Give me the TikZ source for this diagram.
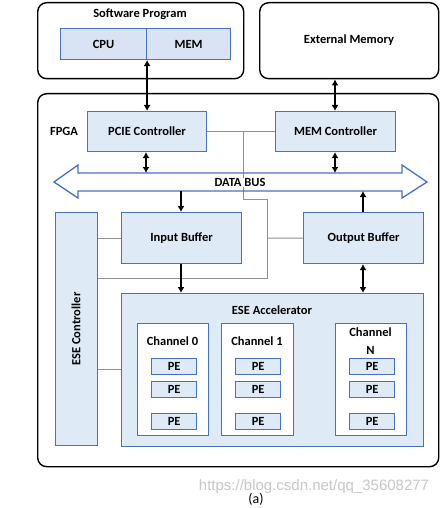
\documentclass[tikz,border=0pt]{standalone}
\usepackage{fontspec}
\setmainfont{Carlito}
\newfontfamily\wmfont{Liberation Sans}
\usetikzlibrary{arrows.meta}
\definecolor{bborder}{HTML}{4472C4}
\definecolor{bfill}{HTML}{DEEBF7}
\definecolor{cfill}{HTML}{DAE3F3}
\definecolor{gline}{HTML}{909090}
\tikzset{
  outerbox/.style={draw=black, line width=1.4pt, rounded corners=9pt, fill=white},
  bluebox/.style={draw=bborder, line width=1.1pt, fill=bfill, inner sep=0pt},
  cpubox/.style={draw=bborder, line width=1.1pt, fill=cfill, inner sep=0pt},
  chanbox/.style={draw=bborder, line width=1.3pt, fill=white, inner sep=0pt},
  pebox/.style={draw=bborder, line width=1.3pt, fill=bfill, inner sep=0pt},
  lbl/.style={font=\bfseries\fontsize{12.5}{14}\selectfont, text=black},
  darr/.style={line width=1.5pt, {Latex[length=6pt,width=7pt]}-{Latex[length=6pt,width=7pt]}},
  sarr/.style={line width=1.5pt, -{Latex[length=6pt,width=7pt]}},
  gray line/.style={draw=gline, line width=1pt},
}
\begin{document}
\begin{tikzpicture}[x=1pt,y=-1pt]
\useasboundingbox[fill=white] (0,0) rectangle (445,508);
% Software Program
\node[outerbox, minimum width=206pt, minimum height=76pt, anchor=north west] (sw) at (37,2) {};
\node[lbl] (swt) at (140,14) {Software Program};
\node[cpubox, minimum width=86pt, minimum height=31pt, anchor=north west] (cpu) at (60,28) {};
\node[cpubox, minimum width=84pt, minimum height=31pt, anchor=north west] (mem) at (146,28) {};
\node[lbl] at (cpu.center) {CPU};
\node[lbl] at (mem.center) {MEM};
% External memory
\node[outerbox, minimum width=179pt, minimum height=76pt, anchor=north west] (ext) at (259,2) {};
\node[lbl] at (349,40) {External Memory};
% FPGA
\node[outerbox, minimum width=401pt, minimum height=373pt, anchor=north west] (fpga) at (37,93) {};
\node[lbl] (fpgat) at (64,131) {FPGA};
% controllers
\node[bluebox, minimum width=119pt, minimum height=40pt, anchor=north west] (pcie) at (87,111) {};
\node[lbl] at (pcie.center) {PCIE Controller};
\node[bluebox, minimum width=120pt, minimum height=40pt, anchor=north west] (memc) at (275,111) {};
\node[lbl] at (memc.center) {MEM Controller};
% buffers
\node[bluebox, minimum width=120pt, minimum height=51pt, anchor=north west] (inb) at (121,212) {};
\node[lbl] at (inb.center) {Input Buffer};
\node[bluebox, minimum width=120pt, minimum height=51pt, anchor=north west] (outb) at (303,212) {};
\node[lbl] at (outb.center) {Output Buffer};
% ESE controller
\node[bluebox, minimum width=42pt, minimum height=233pt, anchor=north west] (esec) at (55,212) {};
\node[lbl, rotate=90] at (76,329) {ESE Controller};
% ESE accelerator
\node[bluebox, minimum width=302pt, minimum height=153pt, anchor=north west] (acc) at (121,293) {};
\node[lbl] at (272,310) {ESE Accelerator};
% channels
\node[chanbox, minimum width=71pt, minimum height=112pt, anchor=north west] (ch0) at (137,323) {};
\node[lbl] at (172.5,341) {Channel 0};
\node[chanbox, minimum width=72pt, minimum height=112pt, anchor=north west] (ch1) at (221,323) {};
\node[lbl] at (257,341) {Channel 1};
\node[chanbox, minimum width=71pt, minimum height=112pt, anchor=north west] (chn) at (335,323) {};
\node[lbl, align=center, font=\bfseries\fontsize{12.5}{18}\selectfont] at (370.5,341) {Channel\\N};
% PEs
\foreach \nm/\x in {a/151,b/235,c/349}{
  \foreach \r/\y in {1/358,2/381,3/413}{
    \node[pebox, minimum width=45pt, minimum height=16pt, anchor=north west] (pe\nm\r) at (\x,\y) {};
    \node[lbl] at (pe\nm\r.center) {PE};
  }
}
% gray lines
\coordinate (gj1) at (243,131);
\coordinate (gj2) at (243,199);
\coordinate (gj3) at (267,199);
\coordinate (gj4) at (267,238);
\coordinate (gj5) at (267,278);
\draw[gray line] (pcie.east) -- (memc.west);
\draw[gray line] (gj1) -- (gj2) -- (gj3) -- (gj5) -- (esec.east |- gj5);
\draw[gray line] (gj4) -- (outb.west);
\draw[gray line] (esec.east |- inb.west) -- (inb.west);
\draw[gray line] (esec.east |- 0,369) -- (acc.west |- 0,369);
% data bus
\draw[draw=bborder, line width=1.3pt, line join=miter]
  (54,182) -- (78,165) -- (78,173) -- (402,173) -- (402,165) -- (427,182)
  -- (402,198) -- (402,191) -- (78,191) -- (78,198) -- cycle;
\node[lbl, fill=white, inner sep=0.5pt] (bus) at (240,182.5) {DATA BUS};
\coordinate (busT1) at (146,173);
\coordinate (busT2) at (335,173);
\coordinate (busB1) at (181,191);
\coordinate (busB2) at (363,191);
% black arrows
\draw[darr] (cpu.south east) -- (pcie.north -| cpu.south east);
\draw[darr] (ext.south -| 335,0) -- (memc.north -| 335,0);
\draw[darr] (pcie.south -| busT1) -- (busT1);
\draw[darr] (memc.south -| busT2) -- (busT2);
\draw[sarr] (busB1) -- (inb.north -| busB1);
\draw[sarr] (outb.north -| busB2) -- (busB2);
\draw[sarr] (inb.south -| busB1) -- (acc.north -| busB1);
\draw[darr] (outb.south -| busB2) -- (acc.north -| busB2);
% caption and watermark
\node[text=black!22, font=\wmfont\fontsize{15}{17}\selectfont] (wm) at (314,487) {https://blog.csdn.net/qq\_35608277};
\node[font=\fontsize{14}{16}\selectfont] (cap) at (256,499.5) {(a)};
\end{tikzpicture}
\end{document}
